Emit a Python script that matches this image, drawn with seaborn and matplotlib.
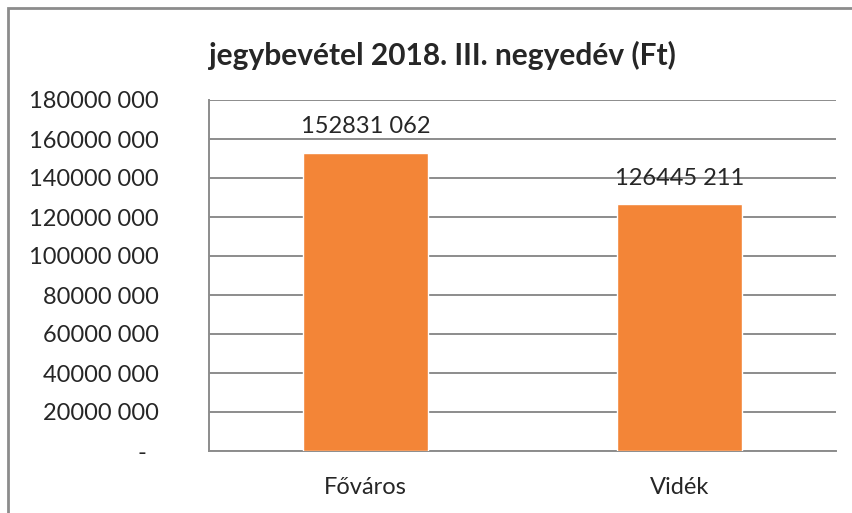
import pandas as pd
import matplotlib
matplotlib.use("Agg")
import matplotlib.pyplot as plt
import seaborn as sns
from matplotlib.patches import Rectangle
from matplotlib.ticker import FuncFormatter, FixedLocator

# adatok
regiok = ["Főváros", "Vidék"]
bevetel = [152831062, 126445211]
y_ticks = [0, 20000000, 40000000, 60000000, 80000000, 100000000,
           120000000, 140000000, 160000000, 180000000]
cim = "jegybevétel 2018. III. negyedév (Ft)"

sns.set_style("white")
plt.rcParams['font.family'] = ['Lato', 'DejaVu Sans']

GRID = "#8c8c8c"
BAR = "#F38537"
FS = 17


def hu_format(v, pos=None):
    v = int(round(v))
    if v == 0:
        return "-  "
    return f"{v // 1000} {v % 1000:03d}"


df = pd.DataFrame({"regio": regiok, "bevetel": bevetel})

fig = plt.figure(figsize=(8.53, 5.13), dpi=100)
ax = fig.add_axes([209 / 853, 1 - 451 / 513, (836 - 209) / 853, (451 - 100) / 513])

sns.barplot(data=df, x="regio", y="bevetel", color=BAR, width=0.4,
            saturation=1, ax=ax, zorder=3)

ax.set_xlim(-0.5, 1.5)
ax.set_ylim(0, 180000000)
ax.yaxis.set_major_locator(FixedLocator(y_ticks))
ax.yaxis.set_major_formatter(FuncFormatter(hu_format))
ax.grid(axis="y", color=GRID, linewidth=1.4, zorder=0)
ax.set_axisbelow(True)

# x tengely: osztásjelek a kategóriák között
ax.set_xticks([-0.5, 0.5, 1.5], minor=True)
ax.tick_params(axis="x", which="major", length=0, pad=19, labelsize=FS)
ax.tick_params(axis="x", which="minor", length=6.5, width=1.4, color=GRID,
               direction="out")
ax.tick_params(axis="y", which="major", length=6.5, width=1.4, color=GRID,
               direction="out", pad=29.5, labelsize=FS)
ax.set_xlabel("")
ax.set_ylabel("")

for s in ["top", "right"]:
    ax.spines[s].set_visible(False)
for s in ["left", "bottom"]:
    ax.spines[s].set_color(GRID)
    ax.spines[s].set_linewidth(1.4)

for i, v in enumerate(bevetel):
    ax.annotate(hu_format(v), (i, v), xytext=(0, 19), textcoords="offset points",
                ha="center", va="center", fontsize=FS, zorder=4)

fig.text(442 / 853, 1 - 55 / 513, cim, ha="center", va="center",
         fontsize=21.5, fontweight="bold")

# diagram kerete
fig.patches.append(Rectangle((8 / 853, -0.1), 1.2, 1 - 8 / 513 + 0.1,
                             transform=fig.transFigure, fill=False,
                             edgecolor=GRID, linewidth=2))

fig.savefig("out.png", dpi=100)
